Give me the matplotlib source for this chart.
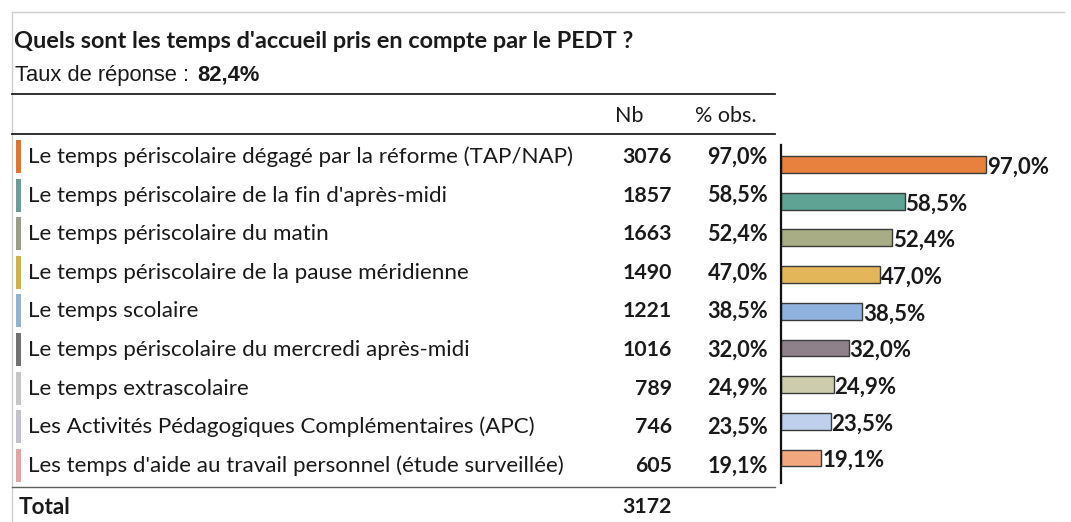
import matplotlib.pyplot as plt

# data
title = "Quels sont les temps d'accueil pris en compte par le PEDT ?"
subtitle = "Taux de réponse :"
taux = "82,4%"
categories = [
    "Le temps périscolaire dégagé par la réforme (TAP/NAP)",
    "Le temps périscolaire de la fin d'après-midi",
    "Le temps périscolaire du matin",
    "Le temps périscolaire de la pause méridienne",
    "Le temps scolaire",
    "Le temps périscolaire du mercredi après-midi",
    "Le temps extrascolaire",
    "Les Activités Pédagogiques Complémentaires (APC)",
    "Les temps d'aide au travail personnel (étude surveillée)",
]
counts = [3076, 1857, 1663, 1490, 1221, 1016, 789, 746, 605]
pct = [97.0, 58.5, 52.4, 47.0, 38.5, 32.0, 24.9, 23.5, 19.1]
total = 3172
header = ["Nb", "% obs."]

bar_colors = ["#E8803E", "#5EA393", "#A9AD85", "#E3B65A", "#8FB3DE",
              "#8F8189", "#CDCDAE", "#BFD0EC", "#F3A77F"]
mark_colors = ["#E07434", "#6C9C94", "#9C9C8A", "#CDB24E", "#93B2D2",
               "#727072", "#C6C6C6", "#C2C2CA", "#E2A4A4"]


def fr(v):
    return f"{v:.1f}".replace('.', ',') + '%'


W, H = 1071, 522
fig = plt.figure(figsize=(W / 100, H / 100), dpi=100)
fig.patch.set_facecolor('white')

# background axes in pixel units for the table part
bg = fig.add_axes([0, 0, 1, 1])
bg.set_xlim(0, W)
bg.set_ylim(H, 0)
bg.axis('off')

font = 'Lato'
txt = '#1a1a1a'

# outer frame
bg.plot([12, 1064], [12, 12], color='#cfcfcf', lw=1)
bg.plot([12, 12], [12, 521], color='#cfcfcf', lw=1)

bg.text(14, 42, title, family=font, fontsize=16.9, fontweight='bold',
        color=txt, va='center')
t = bg.text(15, 75, subtitle, family='Liberation Sans', fontsize=15.8,
            color=txt, va='center')
bg.annotate(taux, xy=(1, 0), xycoords=t, xytext=(6, 0),
            textcoords='offset points', va='bottom', ha='left',
            family='Liberation Sans', fontsize=15.8, fontweight='bold',
            color=txt)

# table rules
bg.plot([12, 775], [94, 94], color='#202020', lw=1.3)
bg.plot([12, 775], [134, 134], color='#202020', lw=1.3)
bg.plot([12, 775], [487, 487], color='#606060', lw=1)

x_nb, x_pct = 672, 768
bg.text(629, 116, header[0], family=font, fontsize=15.5, color=txt,
        ha='center', va='center')
bg.text(726, 116, header[1], family=font, fontsize=15.5, color=txt,
        ha='center', va='center')

y0, dy = 157, 38.6
for i, (cat, n, p) in enumerate(zip(categories, counts, pct)):
    y = y0 + i * dy
    bg.add_patch(plt.Rectangle((16, y - 17), 4.5, 33, color=mark_colors[i],
                               lw=0))
    bg.text(28, y, cat, family=font, fontsize=16.1, color=txt, va='center')
    bg.text(x_nb, y, str(n), family=font, fontsize=15.3, fontweight='bold',
            color=txt, ha='right', va='center')
    bg.text(x_pct, y, fr(p), family=font, fontsize=15.6, fontweight='bold',
            color=txt, ha='right', va='center')

bg.text(19, 507, "Total", family=font, fontsize=16.2, fontweight='bold',
        color=txt, va='center')
bg.text(x_nb, 507, str(total), family=font, fontsize=15.3, fontweight='bold',
        color=txt, ha='right', va='center')

# bar chart part
px_per_unit = 205 / 97
ax = fig.add_axes([781 / W, 1 - 483 / H, (1066 - 781) / W, (483 - 145) / H])
ax.set_facecolor('none')
pos = list(range(len(pct)))
ax.barh(pos, pct, height=0.46, color=bar_colors, edgecolor='#3a3a3a',
        linewidth=1.0)
ax.set_xlim(0, (1066 - 781) / px_per_unit)
ax.set_ylim(8.68, -0.53)
for s in ['top', 'right', 'bottom']:
    ax.spines[s].set_visible(False)
ax.spines['left'].set_linewidth(1.6)
ax.spines['left'].set_color('#111111')
ax.set_xticks([])
ax.set_yticks([])
for i, p in enumerate(pct):
    ax.text(p + 0.4, i + 0.07, fr(p), family=font, fontsize=16,
            fontweight='bold', color=txt, va='center', ha='left',
            clip_on=False)

fig.savefig('out.png', dpi=100, facecolor='white')
